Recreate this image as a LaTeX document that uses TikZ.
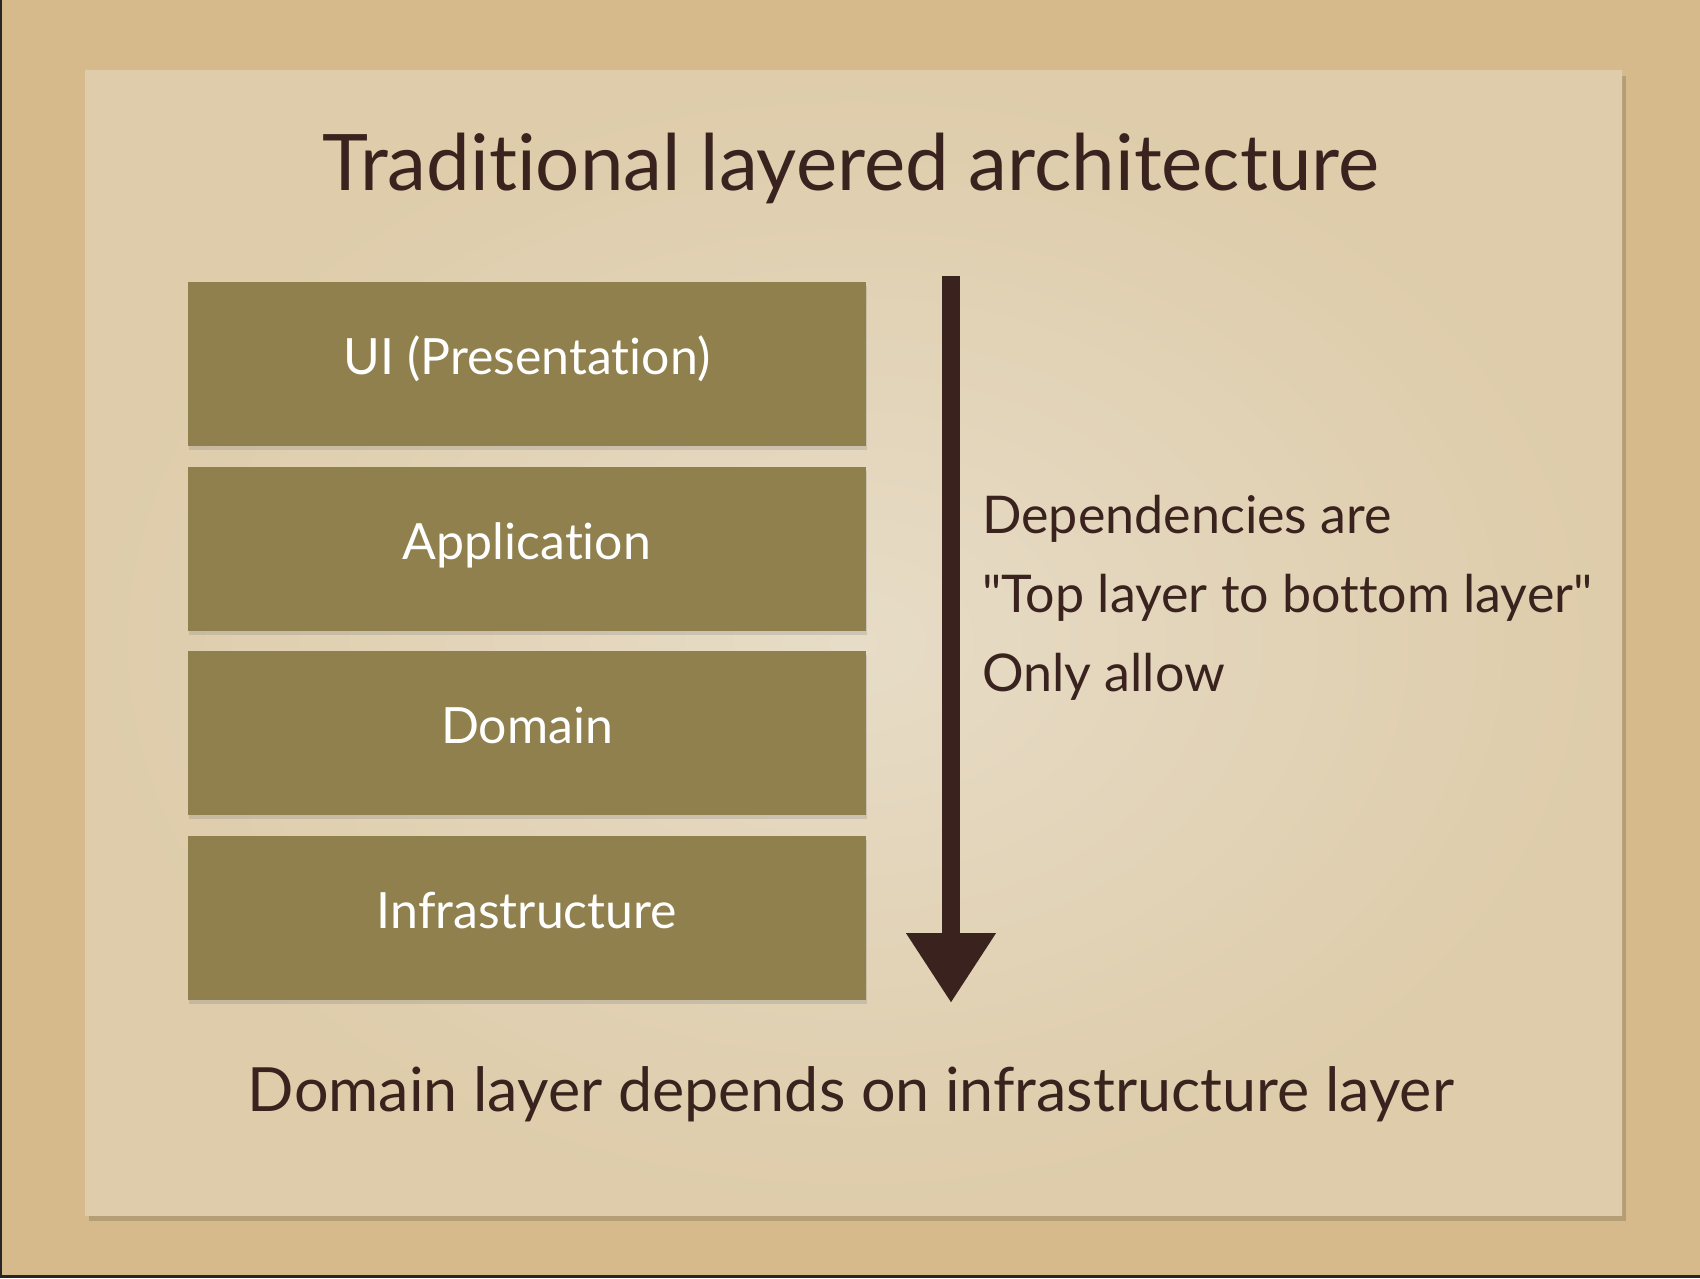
\documentclass[tikz,border=0pt]{standalone}
\usepackage{fontspec}
\defaultfontfeatures{}
\setmainfont{Lato}[Ligatures={NoCommon,TeXOff}]
\usetikzlibrary{arrows.meta}
\usetikzlibrary{shadows}

\definecolor{desk}{RGB}{214,186,140}
\definecolor{paperlight}{RGB}{231,220,199}
\definecolor{paperdark}{RGB}{222,204,170}
\definecolor{layerfill}{RGB}{144,128,77}
\definecolor{ink}{RGB}{58,35,30}

\begin{document}
\begin{tikzpicture}[x=1pt, y=-1pt,
            layer/.style={fill=layerfill, minimum width=678pt, minimum height=164pt, inner sep=0pt,
                text=white, font=\fontsize{50}{50}\selectfont, text height=36pt, text depth=16pt,
                drop shadow={shadow xshift=1pt, shadow yshift=-4pt, opacity=0.25}},
            inktext/.style={text=ink, inner sep=0pt},
            deparrow/.style={draw=ink, line width=18pt, -{Triangle[width=85pt, length=70pt]}}
        ]
            \useasboundingbox (0,0) rectangle (1700,1278);

            % desk and sheet
            \fill[desk] (0,0) rectangle (1700,1278);
            \fill[black!85] (0,0) rectangle (2,1278);
            \fill[black!85] (0,1275) rectangle (1700,1278);
            \fill[desk!70!black, opacity=0.5] (89,76) rectangle (1626,1221);
            \shade[inner color=paperlight, outer color=paperdark] (85,70) rectangle (1622,1215);

            % title
            \node[inktext, anchor=base, font=\fontsize{78}{78}\selectfont] (title) at (851,190) {Traditional layered architecture};

            % layers
            \node[layer] (ui) at (527,364) {UI (Presentation)};
            \node[layer] (app) at (527,549) {Application};
            \node[layer] (domain) at (527,733) {Domain};
            \node[layer] (infra) at (527,918) {Infrastructure};

            % dependency direction
            \coordinate (arrowtop) at (951,276);
            \coordinate (arrowtip) at (951,1003);
            \draw[deparrow] (arrowtop) -- (arrowtip);
            \node[inktext, anchor=base west, align=left, font=\fontsize{52}{79}\selectfont] (deps) at (982,691)
                {Dependencies are\\"Top layer to bottom layer"\\Only allow};

            % summary
            \node[inktext, anchor=base, font=\fontsize{61}{61}\selectfont] (summary) at (851,1111) {Domain layer depends on infrastructure layer};

        \end{tikzpicture}
\end{document}
